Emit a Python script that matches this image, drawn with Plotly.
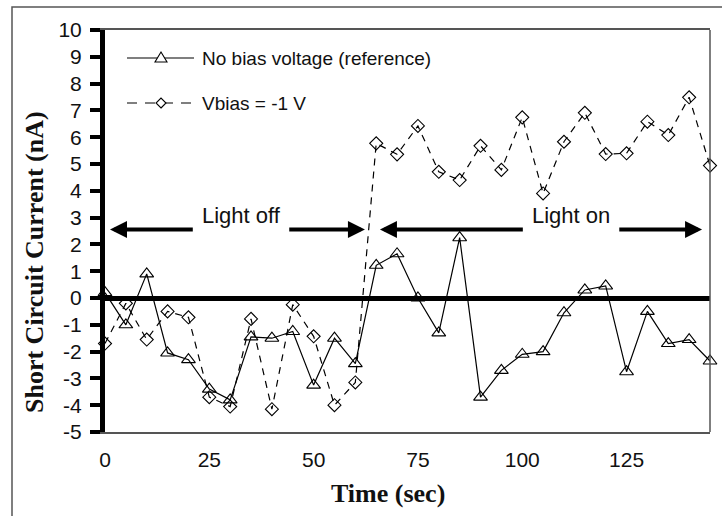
import plotly.graph_objects as go

# Sample times (sec)
time_s = [0, 5, 10, 15, 20, 25, 30, 35, 40, 45, 50, 55, 60, 65, 70,
          75, 80, 85, 90, 95, 100, 105, 110, 115, 120, 125, 130, 135, 140, 145]

# Short circuit current (nA), no bias voltage (reference)
no_bias = [0.2, -1.0, 0.9, -2.05, -2.3, -3.4, -3.8, -1.45, -1.5, -1.25,
           -3.25, -1.5, -2.45, 1.22, 1.65, 0.0, -1.3, 2.25, -3.7, -2.7,
           -2.1, -2.0, -0.55, 0.3, 0.45, -2.75, -0.5, -1.7, -1.55, -2.35]

# Short circuit current (nA), Vbias = -1 V
vbias_m1 = [-1.7, -0.2, -1.55, -0.5, -0.72, -3.7, -4.05, -0.78, -4.15, -0.25,
            -1.43, -4.0, -3.15, 5.77, 5.36, 6.42, 4.71, 4.4, 5.68, 4.78,
            6.74, 3.9, 5.83, 6.91, 5.37, 5.4, 6.58, 6.08, 7.49, 4.94]

series_names = ["No bias voltage (reference)", "Vbias = -1 V"]

# Illumination periods: label, label centre, arrow start/end on time axis
period_labels = ["Light off", "Light on"]
period_label_x = [32.6, 111.7]
period_spans = [(1.2, 62.3), (65.9, 143.1)]
period_arrow_y = 2.56

x_ticks = [0, 25, 50, 75, 100, 125]
y_ticks = list(range(-5, 11))

SANS = "Liberation Sans, Arial, sans-serif"
SERIF = "Liberation Serif, Times New Roman, serif"

# plot-area geometry (px)
L, R, T, B = 105, 12, 30, 84
W, H = 722, 516
PW, PH = W - L - R, H - T - B


def px_x(p):
    return (p - L) / PW


def px_y(p):
    return (H - B - p) / PH


fig = go.Figure()

fig.add_trace(go.Scatter(
    x=time_s, y=no_bias, mode="lines+markers", name=series_names[0],
    line=dict(color="black", width=1.2),
    marker=dict(symbol="triangle-up-open", size=12, color="black",
                line=dict(width=1.1)),
    cliponaxis=False, showlegend=False))

fig.add_trace(go.Scatter(
    x=time_s, y=vbias_m1, mode="lines+markers", name=series_names[1],
    line=dict(color="black", width=1.2, dash="7px,6px"),
    marker=dict(symbol="diamond-open", size=10, color="black",
                line=dict(width=1.1)),
    cliponaxis=False, showlegend=False))

shapes = []
annotations = []

# outer chart frame
shapes.append(dict(type="rect", xref="paper", yref="paper",
                   x0=px_x(12), x1=px_x(726), y0=px_y(522), y1=px_y(7),
                   line=dict(color="#555", width=1.5), layer="below"))
# right edge of plot frame
shapes.append(dict(type="line", xref="paper", yref="paper",
                   x0=1, x1=1, y0=0, y1=1,
                   line=dict(color="#555", width=1.5)))

# period arrows and labels
half_gap = 11.2
for label, cx, (x_start, x_end) in zip(period_labels, period_label_x, period_spans):
    for tip, tail in ((x_start, cx - half_gap), (x_end, cx + half_gap)):
        annotations.append(dict(
            x=tip, y=period_arrow_y, ax=tail, ay=period_arrow_y,
            xref="x", yref="y", axref="x", ayref="y", text="",
            showarrow=True, arrowhead=2, arrowsize=0.85, arrowwidth=4,
            arrowcolor="black"))
    annotations.append(dict(
        x=cx, y=period_arrow_y + 0.5, xref="x", yref="y", text=label,
        xanchor="center", yanchor="middle", showarrow=False,
        font=dict(family=SANS, size=22, color="#111")))

# legend drawn inside the plot area
legend_rows_y = [58, 103]
line_x0, line_x1, marker_x, text_x = 127, 194, 161, 200
for i, (name, row_y) in enumerate(zip(series_names, legend_rows_y)):
    shapes.append(dict(
        type="line", xref="paper", yref="paper",
        x0=px_x(line_x0), x1=px_x(line_x1), y0=px_y(row_y), y1=px_y(row_y),
        line=dict(color="black", width=1.2,
                  dash="solid" if i == 0 else "10px,8px")))
    if i == 0:
        path = "M-6,-4 L6,-4 L0,6 Z"
    else:
        path = "M0,-5 L5,0 L0,5 L-5,0 Z"
    shapes.append(dict(
        type="path", xref="paper", yref="paper",
        xsizemode="pixel", ysizemode="pixel",
        xanchor=px_x(marker_x), yanchor=px_y(row_y), path=path,
        fillcolor="white", line=dict(color="black", width=1.1)))
    annotations.append(dict(
        x=px_x(text_x), y=px_y(row_y), xref="paper", yref="paper",
        xanchor="left", yanchor="middle", text=name, showarrow=False,
        font=dict(family=SANS, size=19, color="#111")))

# axis titles
annotations.append(dict(
    x=px_x(388), y=px_y(493), xref="paper", yref="paper",
    xanchor="center", yanchor="middle",
    text="<b>Time (sec)</b>", showarrow=False,
    font=dict(family=SERIF, size=26, color="#111")))
annotations.append(dict(
    x=px_x(34), y=px_y(262), xref="paper", yref="paper",
    xanchor="center", yanchor="middle",
    text="<b>Short Circuit Current (nA)</b>", textangle=-90, showarrow=False,
    font=dict(family=SERIF, size=26, color="#111")))

fig.update_layout(
    width=W, height=H,
    margin=dict(l=L, r=R, t=T, b=B, pad=0),
    paper_bgcolor="white", plot_bgcolor="white",
    showlegend=False,
    shapes=shapes, annotations=annotations,
    xaxis=dict(
        range=[0, 145], tickvals=x_ticks, ticktext=[str(v) for v in x_ticks],
        showgrid=False, zeroline=False,
        showline=True, linecolor="#555", linewidth=1.5, mirror=True,
        ticks="outside", ticklen=8, tickcolor="rgba(0,0,0,0)",
        tickfont=dict(family=SANS, size=21, color="#111")),
    yaxis=dict(
        range=[-5, 10], tickvals=y_ticks, ticktext=[str(v) for v in y_ticks],
        showgrid=False,
        zeroline=True, zerolinecolor="black", zerolinewidth=5,
        showline=True, linecolor="black", linewidth=5,
        ticks="outside", ticklen=10, tickwidth=4, tickcolor="black",
        ticklabelstandoff=4,
        tickfont=dict(family=SANS, size=21, color="#111")),
)

fig.write_html("out.html")
